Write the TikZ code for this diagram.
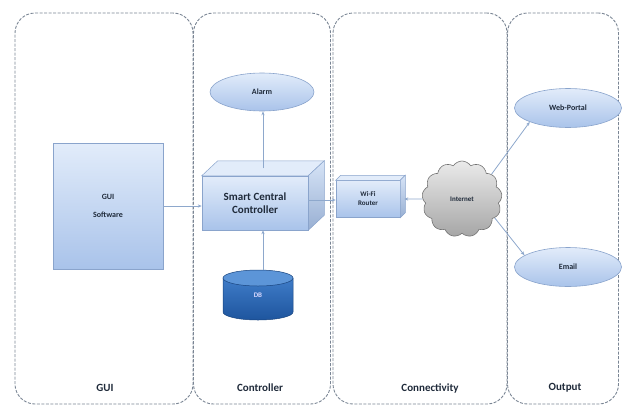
\documentclass[tikz,border=0pt]{standalone}
\usepackage{fontspec}
\setmainfont{Carlito}
\usetikzlibrary{shapes.geometric,shapes.symbols,arrows.meta,calc,shadows}
\definecolor{panelc}{HTML}{7A8594}
\definecolor{linec}{HTML}{8EA8CC}
\definecolor{boxtop}{HTML}{E2ECFA}
\definecolor{boxbot}{HTML}{A9C3EA}
\definecolor{boxdraw}{HTML}{8AA4CC}
\definecolor{dbtop}{HTML}{3F7CC8}
\definecolor{dbbot}{HTML}{1E559E}
\definecolor{dbcap}{HTML}{5C95D8}
\definecolor{txt}{HTML}{1F2A3A}
\begin{document}
\begin{tikzpicture}[x=1pt,y=-1pt,
  panel/.style={draw=panelc, dashed, dash pattern=on 3pt off 1.5pt, line width=0.9pt, rounded corners=20pt, minimum width=#1, inner sep=0pt, minimum height=391pt},
  lab/.style={font=\bfseries\fontsize{11}{12}\selectfont, text=txt},
  bluebox/.style={draw=boxdraw, line width=0.5pt, top color=boxtop, bottom color=boxbot, inner sep=0pt, align=center, text=txt},
  ell/.style={ellipse, draw=boxdraw, line width=0.6pt, top color=boxtop, bottom color=boxbot, minimum width=107pt, minimum height=39pt, inner sep=0pt, font=\bfseries\fontsize{8}{9}\selectfont, text=txt},
  conn/.style={draw=linec, line width=0.8pt, -{Stealth[length=4pt,width=3.2pt]}},
  sh/.style={drop shadow={shadow xshift=1.2pt, shadow yshift=-1.2pt, fill=black!25, opacity=0.5}}
]
\useasboundingbox (0,0) rectangle (628,410);

% panels
\node[panel=178pt] (pgui) at (104,208.5) {};
\node[panel=137pt] (pctl) at (262,208.5) {};
\node[panel=174pt] (pcon) at (420,208.5) {};
\node[panel=111pt] (pout) at (563,208.5) {};

% panel labels
\node[lab] (lgui) at (105,388) {GUI};
\node[lab] (lctl) at (260,388) {Controller};
\node[lab] (lcon) at (430,388) {Connectivity};
\node[lab] (lout) at (565,388) {Output};

% GUI software
\node[bluebox, sh, minimum width=110pt, minimum height=126pt, font=\bfseries\fontsize{8}{9}\selectfont] (gui) at (108,206) {GUI\\[9pt]Software};

% Smart central controller (3D box)
\node[bluebox, minimum width=106pt, minimum height=54pt, font=\bfseries\fontsize{11}{13}\selectfont] (ctl) at (255,203) {Smart Central\\Controller};
\fill[boxtop, draw=boxdraw, line width=0.5pt] (ctl.north west) -- ++(16,-15) -- ($(ctl.north east)+(16,-15)$) -- (ctl.north east) -- cycle;
\shade[top color=boxtop!80!boxbot, bottom color=boxbot!90!black, draw=boxdraw, line width=0.5pt] (ctl.north east) -- ++(16,-15) -- ($(ctl.south east)+(16,-15)$) -- (ctl.south east) -- cycle;
\draw[boxdraw, line width=0.5pt] (ctl.north west) rectangle (ctl.south east);
\coordinate (ctltop) at ($(ctl.north)+(8,-7.5)$);

% Alarm
\node[ell, minimum width=104pt, minimum height=38pt] (alarm) at (262,92) {Alarm};

% DB (cylinder)
\shade[top color=dbtop, bottom color=dbbot, draw=dbbot!80!black, line width=0.5pt]
  (223,278) -- (223,312) arc[start angle=180, end angle=360, x radius=35, y radius=-8] -- (293,278) -- cycle;
\filldraw[fill=dbcap, draw=dbbot!80!black, line width=0.5pt] (258,278) ellipse[x radius=35, y radius=8];
\node[font=\bfseries\fontsize{7}{8}\selectfont, text=white!85!blue, inner sep=0pt, minimum width=70pt, minimum height=50pt] (db) at (258,295) {DB};

% Wi-Fi router (3D box)
\node[bluebox, minimum width=64pt, minimum height=37pt, font=\bfseries\fontsize{7}{9}\selectfont] (wifi) at (368,199) {Wi-Fi\\Router};
\fill[boxtop, draw=boxdraw, line width=0.5pt] (wifi.north west) -- ++(5,-5) -- ($(wifi.north east)+(5,-5)$) -- (wifi.north east) -- cycle;
\shade[top color=boxtop!80!boxbot, bottom color=boxbot!90!black, draw=boxdraw, line width=0.5pt] (wifi.north east) -- ++(5,-5) -- ($(wifi.south east)+(5,-5)$) -- (wifi.south east) -- cycle;

% Internet cloud
\node[cloud, cloud puffs=13, cloud puff arc=115, aspect=1, draw=black!55, line width=0.6pt, top color=black!8, bottom color=black!35, minimum width=80pt, minimum height=76pt, inner sep=0pt, font=\bfseries\fontsize{7}{8}\selectfont, text=txt] (net) at (462,199) {Internet};

% Outputs
\node[ell] (web) at (568,108) {Web-Portal};
\node[ell] (email) at (568,267) {Email};

% connectors
\draw[conn] (gui.east |- 0,206) -- (ctl.west |- 0,206);
\draw[conn] (ctltop) -- (alarm.south -| ctltop);
\draw[conn] (db.north -| ctltop) -- (ctl.south -| ctltop);
\draw[conn] (ctl.east |- 0,200) -- (wifi.west |- 0,200);
\draw[conn] (net.west) -- ($(wifi.east)+(4,0)$);
\draw[conn] (net.40) -- (web.200);
\draw[conn] (net.-30) -- (email.165);
\end{tikzpicture}
\end{document}
